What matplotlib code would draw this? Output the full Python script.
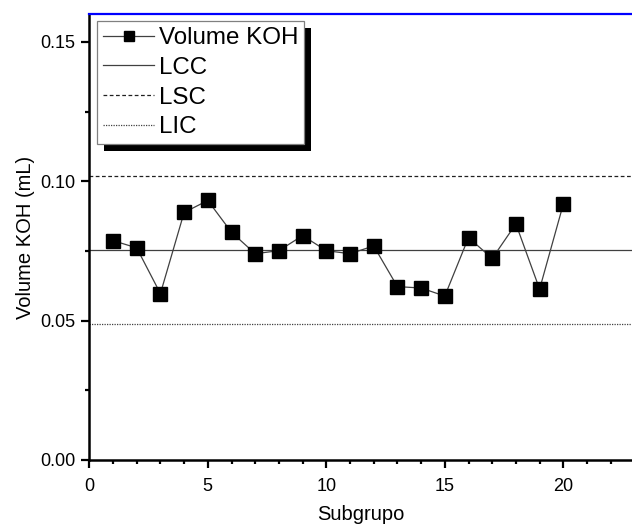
import numpy as np
import matplotlib as mpl
mpl.use('Agg')
import matplotlib.pyplot as plt
from matplotlib.patches import Rectangle
from matplotlib.ticker import MultipleLocator, FormatStrFormatter

plt.rcParams['font.family'] = ['Liberation Sans', 'DejaVu Sans']

# carta de controle - volume de KOH por subgrupo
subgrupo = np.arange(1, 21)
volume_koh = [0.0787, 0.0761, 0.0597, 0.0888, 0.0931, 0.0817, 0.0740, 0.0751, 0.0805, 0.0751,
              0.0740, 0.0768, 0.0622, 0.0617, 0.0588, 0.0798, 0.0723, 0.0847, 0.0613, 0.0918]
lcc = 0.0754
lsc = 0.1019
lic = 0.0488

W, H = 632, 527
fig = plt.figure(figsize=(W / 100, H / 100), dpi=100)
ax = fig.add_axes([89.3 / W, 67 / H, (W - 89.3) / W, 446 / H])

ax.plot(subgrupo, volume_koh, color='#404040', lw=0.9, marker='s', ms=9.5,
        mfc='black', mec='black', label='Volume KOH', zorder=3)
ax.axhline(lcc, color='#404040', lw=0.9, ls='-', label='LCC')
ax.axhline(lsc, color='#202020', lw=0.9, ls=(0, (3, 2)), label='LSC')
ax.axhline(lic, color='#404040', lw=0.9, ls=(0, (1, 1)), label='LIC')

ax.set_xlim(0, (W - 89.3) / 23.7)
ax.set_ylim(0, 0.16)
ax.xaxis.set_major_locator(MultipleLocator(5))
ax.xaxis.set_minor_locator(MultipleLocator(1))
ax.yaxis.set_major_locator(MultipleLocator(0.05))
ax.yaxis.set_minor_locator(MultipleLocator(0.025))
ax.yaxis.set_major_formatter(FormatStrFormatter('%.2f'))
ax.tick_params(which='major', direction='out', length=5.8, width=1.6, labelsize=13, pad=4)
ax.tick_params(axis='x', which='major', pad=7.5)
ax.tick_params(which='minor', direction='out', length=3, width=1.6)
ax.tick_params(top=False, right=False, which='both')

for s in ['left', 'bottom']:
    ax.spines[s].set_linewidth(1.8)
ax.spines['top'].set_color('blue')
ax.spines['top'].set_linewidth(1.6)
ax.spines['right'].set_visible(False)

ax.set_xlabel('Subgrupo', fontsize=14.5, labelpad=6.5)
ax.set_ylabel('Volume KOH (mL)', fontsize=14.5, labelpad=4)

leg = ax.legend(loc='upper left', bbox_to_anchor=(8 / (W - 89.3), 1 - 7 / 446),
                borderaxespad=0, fontsize=17.4, handlelength=2.1, handletextpad=0.2,
                labelspacing=0.32, borderpad=0.25, numpoints=1, fancybox=False,
                framealpha=1, edgecolor='#808080', markerscale=0.76)
leg.get_frame().set_linewidth(0.9)
leg.set_zorder(10)

# sombra preta do quadro da legenda
fig.canvas.draw()
bb = leg.get_frame().get_window_extent(fig.canvas.get_renderer())
inv = fig.transFigure.inverted()
(x0, y0), (x1, y1) = inv.transform([[bb.x0 + 7, bb.y0 - 7], [bb.x1 + 7, bb.y1 - 7]])
fig.patches.append(Rectangle((x0, y0), x1 - x0, y1 - y0, transform=fig.transFigure,
                             facecolor='black', edgecolor='none', zorder=1))
ax.set_zorder(2)
ax.patch.set_visible(False)

fig.savefig('out.png', dpi=100)
